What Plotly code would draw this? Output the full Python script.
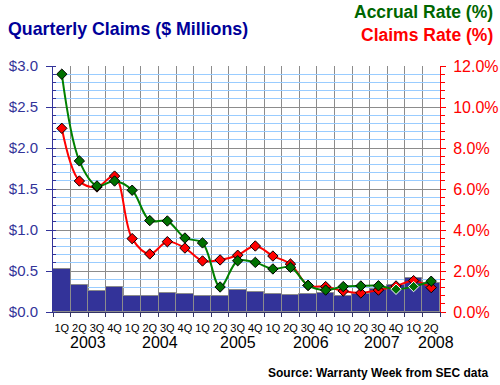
import plotly.graph_objects as go

quarters = ["1Q", "2Q", "3Q", "4Q"] * 5 + ["1Q", "2Q"]
years = ["2003", "2004", "2005", "2006", "2007", "2008"]
claims_musd = [0.52, 0.325, 0.26, 0.31, 0.19, 0.20, 0.23, 0.215, 0.19, 0.20, 0.265,
               0.25, 0.215, 0.21, 0.215, 0.23, 0.20, 0.22, 0.28, 0.33, 0.41, 0.35]
accrual_rate = [11.6, 7.37, 6.15, 6.39, 5.94, 4.46, 4.44, 3.61, 3.37, 1.22, 2.50,
                2.42, 2.10, 2.18, 1.30, 1.07, 1.24, 1.27, 1.28, 1.11, 1.24, 1.50]
claims_rate = [8.96, 6.39, 6.1, 6.63, 3.58, 2.83, 3.43, 3.12, 2.49, 2.54, 2.77,
               3.22, 2.73, 2.34, 1.3, 1.24, 1.02, 0.93, 1.07, 1.27, 1.53, 1.19]

# layout-only constants
YEAR_LABEL_X = [1.5, 5.58, 10.03, 14.14, 18.2, 21.3]
FONT = "Arial, Liberation Sans, sans-serif"
NAVY = "#333399"
GRID = "#8c8c8c"
LIGHT = "#99ccff"
GREEN = "#008000"
RED = "#ff0000"

W, H = 500, 385
ML, MR, MT, MB = 53, 60, 66, 73
PW, PH = W - ML - MR, H - MT - MB


def px(x):
    return (x - ML) / PW


def py(y):
    return (H - MB - y) / PH


n = len(quarters)
xs = list(range(n))

green_outline = ["black"] * n
green_outline[19] = "white"
green_outline[20] = "white"

fig = go.Figure()
fig.add_trace(go.Bar(
    x=xs, y=claims_musd, width=1.0,
    marker=dict(color=NAVY, line=dict(color=GRID, width=1)),
    yaxis="y", showlegend=False,
))
fig.add_trace(go.Scatter(
    x=xs, y=claims_rate, yaxis="y2", mode="lines+markers",
    line=dict(color=RED, width=2, shape="spline", smoothing=1.0),
    marker=dict(symbol="diamond", size=8, color=RED, line=dict(color="black", width=1)),
    showlegend=False, cliponaxis=False,
))
fig.add_trace(go.Scatter(
    x=xs, y=accrual_rate, yaxis="y2", mode="lines+markers",
    line=dict(color=GREEN, width=2, shape="spline", smoothing=1.0),
    marker=dict(symbol="diamond", size=8, color="#007000",
                line=dict(color=green_outline, width=1)),
    showlegend=False, cliponaxis=False,
))

annotations = []
for yr, xp in zip(years, YEAR_LABEL_X):
    annotations.append(dict(
        x=xp, y=py(342), xref="x", yref="paper", text=yr, showarrow=False,
        xanchor="center", yanchor="middle",
        font=dict(family=FONT, size=16, color="black"),
    ))
annotations += [
    dict(x=px(6), y=py(29), xref="paper", yref="paper", xanchor="left", yanchor="middle",
         text="<b>Quarterly Claims ($ Millions)</b>", showarrow=False,
         font=dict(family=FONT, size=17.8, color="#000099")),
    dict(x=px(495), y=py(12), xref="paper", yref="paper", xanchor="right", yanchor="middle",
         text="<b>Accrual Rate (%)</b>", showarrow=False,
         font=dict(family=FONT, size=17.5, color="#006600")),
    dict(x=px(495), y=py(35), xref="paper", yref="paper", xanchor="right", yanchor="middle",
         text="<b>Claims Rate (%)</b>", showarrow=False,
         font=dict(family=FONT, size=17.5, color=RED)),
    dict(x=px(490), y=py(373), xref="paper", yref="paper", xanchor="right", yanchor="middle",
         text="<b>Source: Warranty Week from SEC data</b>", showarrow=False,
         font=dict(family=FONT, size=12, color="black")),
]

fig.update_layout(
    width=W, height=H,
    margin=dict(l=ML, r=MR, t=MT, b=MB, pad=0, autoexpand=False),
    paper_bgcolor="white", plot_bgcolor="white",
    font=dict(family=FONT),
    bargap=0,
    annotations=annotations,
    xaxis=dict(
        range=[-0.5, n - 0.5], tickmode="array", tickvals=xs, ticktext=quarters,
        showgrid=False, zeroline=False, ticks="", ticklabelstandoff=6, tickangle=0,
        tickfont=dict(family=FONT, size=11, color="black"),
        showline=True, linecolor="#333366", linewidth=1, automargin=False,
        minor=dict(tickmode="array", tickvals=[i - 0.5 for i in range(n + 1)],
                   showgrid=True, gridcolor=GRID, gridwidth=1,
                   ticks="outside", ticklen=4, tickcolor="#333366"),
    ),
    yaxis=dict(
        range=[0, 3], dtick=0.5, tick0=0, tickformat=".1f", tickprefix="$",
        showgrid=True, gridcolor=GRID, gridwidth=1, zeroline=False,
        showline=True, linecolor=NAVY, linewidth=1, automargin=False,
        ticks="outside", ticklen=6, tickcolor=NAVY, ticklabelstandoff=5,
        tickfont=dict(family=FONT, size=15, color=NAVY),
        minor=dict(dtick=0.1, tick0=0, showgrid=True, gridcolor=LIGHT, gridwidth=1,
                   ticks="inside", ticklen=3, tickcolor=NAVY),
    ),
    yaxis2=dict(
        range=[0, 12], dtick=2, tick0=0, tickformat=".1f", ticksuffix="%",
        overlaying="y", side="right", showgrid=False, zeroline=False,
        showline=True, linecolor=RED, linewidth=1, automargin=False,
        ticks="outside", ticklen=5, tickcolor=RED, ticklabelstandoff=4,
        tickfont=dict(family=FONT, size=16, color=RED),
        minor=dict(dtick=0.4, tick0=0, ticks="outside", ticklen=4, tickcolor=RED, showgrid=False),
    ),
)

fig.write_html("out.html", config={"displayModeBar": False},
               post_script="document.body.style.margin='0';")
